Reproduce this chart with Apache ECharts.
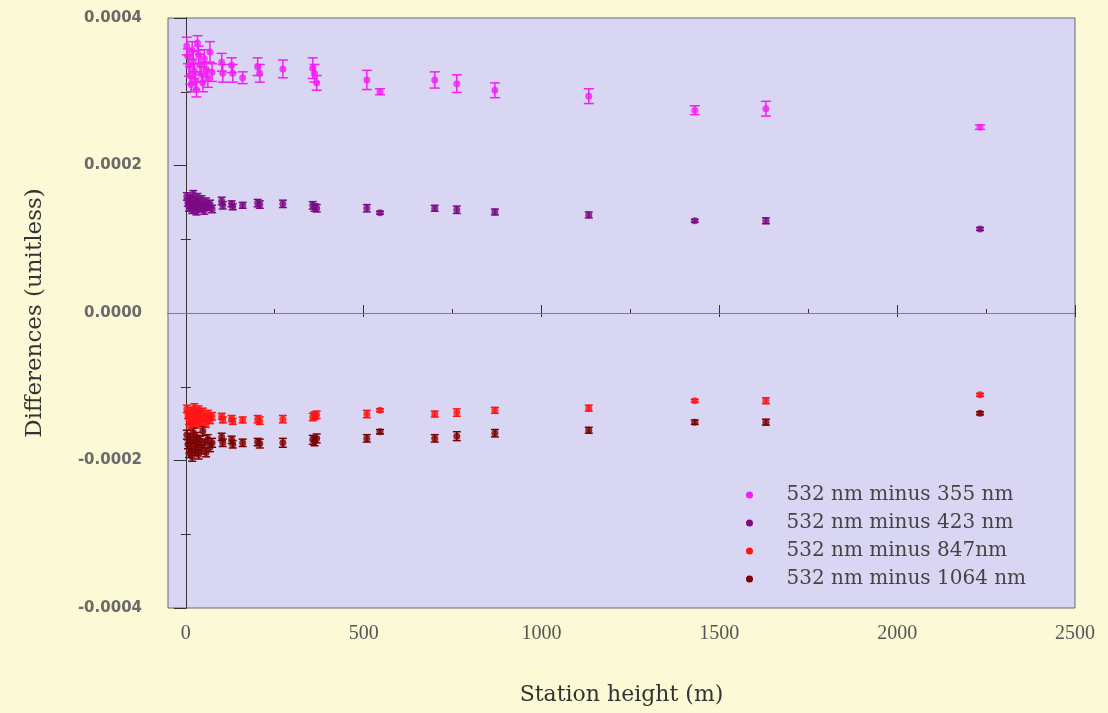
<!DOCTYPE html>
<html>
<head>
<meta charset="utf-8">
<title>Differences vs station height</title>
<script src="https://cdn.jsdelivr.net/npm/echarts@6.0.0/dist/echarts.min.js"></script>
<style>
    html, body { margin: 0; padding: 0; background: #fbf9d6; }
    #chart { width: 1108px; height: 713px; }
</style>
</head>
<body>
<div id="chart"></div>
<script>
    // station heights (m), shared by all four series
    var heights = [3, 6, 9, 12, 15, 18, 21, 24, 27, 30, 33, 36, 40, 44, 48, 52, 57, 62, 68, 74,
                   101, 104, 129, 132, 160, 202, 208, 273, 357, 362, 368, 509, 546, 700, 762, 869, 1133, 1431, 1631, 2233];

    var names = ['532 nm minus 355 nm', '532 nm minus 423 nm', '532 nm minus 847nm', '532 nm minus 1064 nm'];
    var colors = ['#f41ef4', '#7c0a84', '#ff1414', '#7a0000'];

    // 532 - 355
    var diff355 = [0.000362, 0.000348, 0.000335, 0.000322, 0.000310, 0.000356, 0.000341, 0.000328, 0.000315, 0.000303,
                   0.000366, 0.000350, 0.000337, 0.000324, 0.000312, 0.000345, 0.000330, 0.000318, 0.000354, 0.000326,
                   0.000340, 0.000325, 0.000336, 0.000325, 0.000319, 0.000334, 0.000325, 0.000331, 0.000332, 0.000325,
                   0.000312, 0.000316, 0.000300, 0.000316, 0.000311, 0.000302, 0.000294, 0.000275, 0.000277, 0.000252];
    var err355 = [0.000012, 0.000010, 0.000014, 0.000012, 0.000010, 0.000012, 0.000014, 0.000010, 0.000012, 0.000010,
                  0.000010, 0.000012, 0.000014, 0.000010, 0.000012, 0.000012, 0.000010, 0.000012, 0.000014, 0.000012,
                  0.000012, 0.000012, 0.000010, 0.000012, 0.000008, 0.000012, 0.000012, 0.000012, 0.000014, 0.000012,
                  0.000010, 0.000013, 0.000004, 0.000011, 0.000012, 0.000010, 0.000010, 0.000006, 0.000010, 0.000003];

    // 532 - 423
    var diff423 = [0.000158, 0.000150, 0.000143, 0.000155, 0.000147, 0.000140, 0.000161, 0.000152, 0.000145, 0.000138,
                   0.000157, 0.000149, 0.000142, 0.000154, 0.000146, 0.000139, 0.000151, 0.000144, 0.000148, 0.000141,
                   0.000152, 0.000146, 0.000148, 0.000144, 0.000146, 0.000149, 0.000147, 0.000148, 0.000146, 0.000143,
                   0.000142, 0.000142, 0.000136, 0.000142, 0.000140, 0.000137, 0.000133, 0.000125, 0.000125, 0.000114];
    var err423 = [0.000005, 0.000005, 0.000005, 0.000005, 0.000005, 0.000005, 0.000005, 0.000005, 0.000005, 0.000005,
                  0.000005, 0.000005, 0.000005, 0.000005, 0.000005, 0.000005, 0.000005, 0.000005, 0.000005, 0.000005,
                  0.000005, 0.000005, 0.000004, 0.000004, 0.000004, 0.000005, 0.000005, 0.000005, 0.000005, 0.000005,
                  0.000005, 0.000005, 0.000002, 0.000004, 0.000005, 0.000004, 0.000004, 0.000002, 0.000004, 0.000002];

    // 532 - 847
    var diff847 = [-0.000130, -0.000138, -0.000146, -0.000153, -0.000133, -0.000141, -0.000149, -0.000128, -0.000136, -0.000144,
                   -0.000151, -0.000131, -0.000139, -0.000147, -0.000134, -0.000142, -0.000150, -0.000137, -0.000145, -0.000140,
                   -0.000140, -0.000145, -0.000143, -0.000147, -0.000145, -0.000144, -0.000146, -0.000144, -0.000141, -0.000139,
                   -0.000138, -0.000137, -0.000132, -0.000137, -0.000135, -0.000132, -0.000129, -0.000119, -0.000119, -0.000111];
    var err847 = [0.000005, 0.000005, 0.000005, 0.000005, 0.000005, 0.000005, 0.000005, 0.000005, 0.000005, 0.000005,
                  0.000005, 0.000005, 0.000005, 0.000005, 0.000005, 0.000005, 0.000005, 0.000005, 0.000005, 0.000005,
                  0.000004, 0.000004, 0.000004, 0.000004, 0.000004, 0.000005, 0.000005, 0.000005, 0.000005, 0.000005,
                  0.000005, 0.000005, 0.000002, 0.000004, 0.000005, 0.000004, 0.000004, 0.000002, 0.000004, 0.000002];

    // 532 - 1064
    var diff1064 = [-0.000165, -0.000178, -0.000190, -0.000170, -0.000183, -0.000195, -0.000162, -0.000175, -0.000187, -0.000168,
                    -0.000180, -0.000192, -0.000173, -0.000185, -0.000160, -0.000177, -0.000189, -0.000171, -0.000182, -0.000176,
                    -0.000168, -0.000176, -0.000172, -0.000178, -0.000176, -0.000175, -0.000177, -0.000176, -0.000172, -0.000174,
                    -0.000170, -0.000170, -0.000161, -0.000170, -0.000167, -0.000163, -0.000159, -0.000148, -0.000148, -0.000136];
    var err1064 = [0.000006, 0.000006, 0.000006, 0.000006, 0.000006, 0.000006, 0.000006, 0.000006, 0.000006, 0.000006,
                   0.000006, 0.000006, 0.000006, 0.000006, 0.000006, 0.000006, 0.000006, 0.000006, 0.000006, 0.000006,
                   0.000005, 0.000005, 0.000005, 0.000005, 0.000005, 0.000005, 0.000006, 0.000006, 0.000006, 0.000006,
                   0.000006, 0.000005, 0.000003, 0.000005, 0.000006, 0.000005, 0.000004, 0.000003, 0.000004, 0.000002];

    var xMajor = [0, 500, 1000, 1500, 2000, 2500];
    var xMinor = [250, 750, 1250, 1750, 2250];
    var yMinor = [-0.0003, -0.0001, 0.0001, 0.0003];

    var allDiffs = [diff355, diff423, diff847, diff1064];
    var allErrs = [err355, err423, err847, err1064];

    function errorBar(capHalf) {
        return function (params, api) {
            var x = api.value(0), y = api.value(1), e = api.value(2);
            var hi = api.coord([x, y + e]);
            var lo = api.coord([x, y - e]);
            var st = { stroke: api.visual('color'), lineWidth: 1.5 };
            return {
                type: 'group',
                children: [
                    { type: 'line', shape: { x1: hi[0], y1: hi[1], x2: lo[0], y2: lo[1] }, style: st },
                    { type: 'line', shape: { x1: hi[0] - capHalf, y1: hi[1], x2: hi[0] + capHalf, y2: hi[1] }, style: st },
                    { type: 'line', shape: { x1: lo[0] - capHalf, y1: lo[1], x2: lo[0] + capHalf, y2: lo[1] }, style: st }
                ]
            };
        };
    }

    var series = [];
    allDiffs.forEach(function (vals, i) {
        var pts = [], bars = [];
        heights.forEach(function (h, j) {
            pts.push([h, vals[j]]);
            bars.push([h, vals[j], allErrs[i][j]]);
        });
        series.push({
            name: names[i],
            type: 'custom',
            renderItem: errorBar(i == 0 ? 5 : 4),
            data: bars,
            itemStyle: { color: colors[i] },
            z: 2
        });
        series.push({
            name: names[i],
            type: 'scatter',
            data: pts,
            symbol: 'circle',
            symbolSize: 7,
            itemStyle: { color: colors[i] },
            z: 3
        });
    });
    // zero reference line
    series[1].markLine = {
        silent: true,
        symbol: 'none',
        label: { show: false },
        lineStyle: { color: '#7d7c93', width: 1, type: 'solid' },
        data: [{ yAxis: 0 }]
    };

    var option = {
        backgroundColor: '#fbf9d6',
        animation: false,
        color: colors,
        grid: {
            left: 168, right: 33, top: 18, bottom: 105,
            show: true,
            backgroundColor: '#d9d6f3',
            borderColor: '#6a6a6a',
            borderWidth: 1
        },
        legend: {
            data: names,
            orient: 'vertical',
            left: 741,
            top: 480,
            icon: 'circle',
            itemWidth: 64,
            itemHeight: 7,
            itemGap: 8,
            textStyle: { fontFamily: 'DejaVu Serif', fontSize: 20, color: '#444' }
        },
        xAxis: [
            {
                type: 'value', position: 'bottom', min: -50, max: 2500,
                name: 'Station height (m)', nameLocation: 'middle', nameGap: 76,
                nameTextStyle: { fontFamily: 'DejaVu Serif', fontSize: 22, color: '#333' },
                axisLine: { show: true, lineStyle: { color: '#333' } },
                axisTick: { show: true, customValues: xMajor, length: 4, lineStyle: { color: '#333' } },
                axisLabel: {
                    customValues: xMajor, margin: 16, fontFamily: 'Liberation Serif', fontSize: 20, color: '#555',
                    formatter: function (v) { return String(v); }
                },
                splitLine: { show: false }
            },
            {
                type: 'value', position: 'bottom', min: -50, max: 2500,
                axisLine: { show: false },
                axisTick: { show: true, inside: true, customValues: xMajor, length: 8, lineStyle: { color: '#333' } },
                axisLabel: { show: false },
                splitLine: { show: false }
            },
            {
                type: 'value', position: 'bottom', min: -50, max: 2500,
                axisLine: { show: false },
                axisTick: { show: true, inside: true, customValues: xMinor, length: 4, lineStyle: { color: '#333' } },
                axisLabel: { show: false },
                splitLine: { show: false }
            }
        ],
        yAxis: [
            {
                type: 'value', position: 'left', min: -0.0004, max: 0.0004, interval: 0.0002,
                name: 'Differences (unitless)', nameLocation: 'middle', nameGap: 121,
                nameTextStyle: { fontFamily: 'DejaVu Serif', fontSize: 23, color: '#333' },
                axisLine: { show: true, lineStyle: { color: '#333' } },
                axisTick: { show: true, length: 12, lineStyle: { color: '#333' } },
                axisLabel: {
                    margin: 26, fontFamily: 'DejaVu Sans', fontWeight: 'bold', fontSize: 15, color: '#6a6a6a',
                    formatter: function (v) { return v.toFixed(4); }
                },
                splitLine: { show: false }
            },
            {
                type: 'value', position: 'left', min: -0.0004, max: 0.0004,
                axisLine: { show: false },
                axisTick: { show: true, inside: true, customValues: yMinor, length: 5, lineStyle: { color: '#333' } },
                axisLabel: { show: false },
                splitLine: { show: false }
            },
            {
                type: 'value', position: 'right', min: -0.0004, max: 0.0004, interval: 0.0001,
                axisLine: { show: true, lineStyle: { color: '#333' } },
                axisTick: { show: true, inside: true, length: 5, lineStyle: { color: '#333' } },
                axisLabel: { show: false },
                splitLine: { show: false }
            }
        ],
        series: series
    };

    var chart = echarts.init(document.getElementById('chart'));
    chart.setOption(option);
</script>
</body>
</html>
